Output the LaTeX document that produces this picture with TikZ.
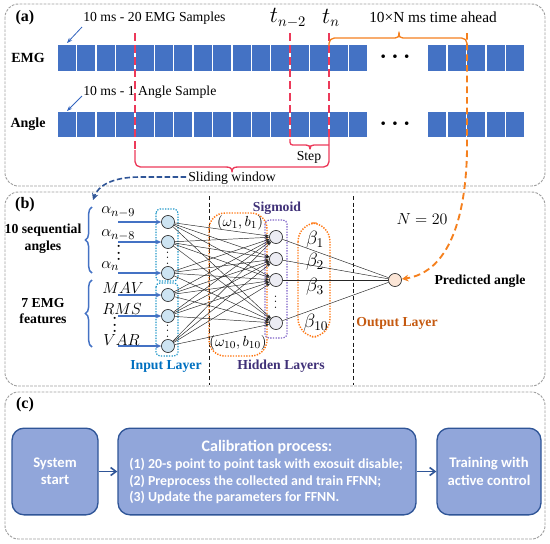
\documentclass[tikz,border=0pt]{standalone}
\usepackage{fontspec}
\setmainfont{Liberation Serif}
\newfontfamily\calfont{Carlito}
\usetikzlibrary{arrows.meta,decorations.pathreplacing}
\definecolor{blk}{RGB}{68,114,196}
\definecolor{redd}{RGB}{236,58,90}
\definecolor{orgd}{RGB}{245,128,30}
\definecolor{annb}{RGB}{50,100,190}
\definecolor{inpc}{RGB}{0,112,192}
\definecolor{hidc}{RGB}{64,49,120}
\definecolor{outc}{RGB}{197,90,17}
\definecolor{cyand}{RGB}{30,150,200}
\definecolor{purd}{RGB}{128,100,200}
\definecolor{orgdot}{RGB}{255,120,20}
\definecolor{boxf}{RGB}{145,166,218}
\definecolor{boxd}{RGB}{47,85,151}
\definecolor{nin}{RGB}{205,228,242}
\definecolor{nhid}{RGB}{236,236,243}
\definecolor{nout}{RGB}{251,229,214}
\tikzset{
  frame/.style={draw=gray!75, dash pattern=on 2pt off 1pt, line width=0.7pt, rounded corners=10pt},
  reddash/.style={draw=redd, line width=1.4pt, dash pattern=on 6pt off 3pt},
  redbr/.style={draw=redd, line width=1pt, line join=round},
  orgbr/.style={draw=orgd, line width=1pt, line join=round},
  annarrow/.style={draw=annb, line width=0.6pt, -{Stealth[length=4pt,width=3pt]}},
  txta/.style={font=\fontsize{10.3}{12}\selectfont, inner sep=0pt},
  lbl/.style={font=\fontsize{10.3}{12}\selectfont\bfseries, inner sep=0pt},
  mth/.style={font=\fontsize{13}{15}\selectfont, inner sep=0pt},
  mthc/.style={font=\fontsize{11.5}{13}\selectfont, inner sep=0pt},
  vd/.style={font=\fontsize{9}{9}\selectfont, inner sep=0pt, rotate=90},
  neu/.style={circle, draw=gray!40!black, line width=0.5pt, minimum size=9.8pt, inner sep=0pt},
  edge/.style={draw=gray!30!black, line width=0.35pt, -{Stealth[length=3pt,width=2pt]}},
  edgeo/.style={draw=gray!30!black, line width=0.35pt},
  inarrow/.style={draw=blk, line width=1pt, -{Stealth[length=4pt,width=3.5pt]}},
  dotbox/.style={line width=0.9pt, dash pattern=on 1pt off 1pt, rounded corners=3pt},
  flow/.style={draw=boxd, line width=1pt, fill=boxf, rounded corners=9pt, text=white, font=\calfont\bfseries\fontsize{11}{13}\selectfont, align=center},
  ctext/.style={text=white, font=\calfont\bfseries\fontsize{10.4}{12}\selectfont, inner sep=0pt, anchor=west},
  flowarrow/.style={draw=boxd, line width=1.2pt, -{Straight Barb[length=4pt,width=6pt]}},
}
\begin{document}
\begin{tikzpicture}[x=0.75pt,y=-0.75pt]
\useasboundingbox (0,0) rectangle (550,543);
% frames
\draw[frame] (5,4) rectangle (545,186);
\draw[frame] (5,192) rectangle (545,386);
\draw[frame] (5,392) rectangle (545,539);
\node[lbl, font=\fontsize{12}{14}\selectfont\bfseries] (pa) at (25,18) {(a)};
\node[lbl, font=\fontsize{12}{14}\selectfont\bfseries] (pb) at (25,205) {(b)};
\node[lbl, font=\fontsize{12}{14}\selectfont\bfseries] (pc) at (25,405) {(c)};
% ===== panel a =====
\foreach \k in {0,...,15} {
  \fill[blk] ({58+19.4*\k},45) rectangle ++(18,26);
  \fill[blk] ({58+19.4*\k},112) rectangle ++(18,25);
}
\foreach \k in {0,...,4} {
  \fill[blk] ({428.3+19.4*\k},45) rectangle ++(18,26);
  \fill[blk] ({428.3+19.4*\k},112) rectangle ++(18,25);
}
\node[font=\fontsize{16}{16}\selectfont\boldmath, inner sep=0pt] (d1) at (395,57) {$\cdots$};
\node[font=\fontsize{16}{16}\selectfont\boldmath, inner sep=0pt] (d2) at (395,124) {$\cdots$};
\node[lbl, font=\fontsize{10.5}{12}\selectfont\bfseries] (emg) at (28,58) {EMG};
\node[lbl, font=\fontsize{10.5}{12}\selectfont\bfseries] (ang) at (28,124) {Angle};
\node[txta, anchor=west] (t1) at (83,18) {10 ms - 20 EMG Samples};
\node[txta, anchor=west] (t2) at (83,92) {10 ms - 1 Angle Sample};
\coordinate (a1s) at (82,27); \coordinate (a1e) at (67,43);
\coordinate (a2s) at (82,96); \coordinate (a2e) at (67,111);
\draw[annarrow] (a1s) -- (a1e);
\draw[annarrow] (a2s) -- (a2e);
% time labels
\node[font=\fontsize{16}{18}\selectfont, inner sep=0pt] (tn2) at (288,18) {$t_{n-2}$};
\node[font=\fontsize{16}{18}\selectfont, inner sep=0pt] (tn) at (331,18) {$t_{n}$};
\node[txta, font=\fontsize{11.5}{13}\selectfont] (ahead) at (433,17) {10×N ms time ahead};
% red dashed lines
\draw[reddash] (135,33) -- (135,152);
\draw[reddash] (290,33) -- (290,140);
\draw[reddash] (329,33) -- (329,138);
% sliding window brace
\draw[redbr, rounded corners=4pt] (135,150) -- (135,167) -- (226,167);
\draw[redbr] (226,167) .. controls (230,167) and (232,168) .. (232,172) .. controls (232,168) and (234,167) .. (238,167);
\draw[redbr, rounded corners=4pt] (238,167) -- (329,167) -- (329,136);
% step brace
\draw[redbr, rounded corners=2pt] (290,139) -- (290,145) -- (306,145);
\draw[redbr] (306,145) .. controls (309,145) and (310,146) .. (310,149) .. controls (310,146) and (311,145) .. (314,145) -- (329,145);
\node[txta] (step) at (309,157) {Step};
\node[txta] (sw) at (232,178) {Sliding window};
% orange brace
\draw[orgbr, rounded corners=4pt] (329,46) -- (329,38) -- (395,38);
\draw[orgbr] (395,38) .. controls (398,38) and (399,37) .. (399,32) .. controls (399,37) and (400,38) .. (403,38);
\draw[orgbr, rounded corners=4pt] (403,38) -- (467,38) -- (467,44);
% ===== panel b =====
% dashed separators
\coordinate (s1t) at (209,196); \coordinate (s1b) at (209,385);
\coordinate (s2t) at (353,196); \coordinate (s2b) at (353,385);
\draw[gray!20!black, line width=0.5pt, dash pattern=on 3pt off 2pt] (s1t) -- (s1b);
\draw[gray!20!black, line width=0.5pt, dash pattern=on 3pt off 2pt] (s2t) -- (s2b);
% boxes
\draw[dotbox, draw=cyand] (156,209) rectangle (178,281);
\draw[dotbox, draw=cyand] (156,283) rectangle (178,356);
\draw[dotbox, draw=orgdot, rounded corners=12pt, line width=1.1pt] (209,213) rectangle (267,356);
\draw[dotbox, draw=purd] (265,220) rectangle (287,338);
\draw[dotbox, draw=orgdot, rounded corners=14pt, line width=1.1pt] (298,223) rectangle (330,337);
% input neurons
\foreach \n/\y in {1/222,2/242,3/273,4/295,5/316,6/346} {
  \node[neu, fill=nin] (i\n) at (168,\y) {};
  \coordinate (src\n) at (118,\y);
  \draw[inarrow] (src\n) -- (i\n);
}
\node[vd] (iv1) at (168,258) {$\cdots$};
\node[vd] (iv2) at (168,331) {$\cdots$};
% hidden neurons
\foreach \n/\y in {1/237,2/259,3/280,4/323} {
  \node[neu, fill=nhid] (h\n) at (276,\y) {};
}
\node[vd] (hv) at (276,302) {$\cdots$};
\node[neu, fill=nout] (o) at (395,280) {};
\foreach \i in {1,...,6} {
  \foreach \h in {1,...,4} {
    \draw[edge] (i\i) -- (h\h);
  }
}
\foreach \h in {1,...,4} { \draw[edgeo] (h\h) -- (o); }
% input labels
\node[mth, anchor=west] (la1) at (101,212) {$\alpha_{n-9}$};
\node[mth, anchor=west] (la2) at (101,235) {$\alpha_{n-8}$};
\node[vd, font=\fontsize{10}{10}\selectfont\boldmath] (lav) at (119,253) {$\cdots$};
\node[mth, anchor=west] (la3) at (101,266) {$\alpha_{n}$};
\node[mthc, anchor=west] (lm1) at (102,288) {$MAV$};
\node[mthc, anchor=west] (lm2) at (102,309) {$RMS$};
\node[vd, font=\fontsize{10}{10}\selectfont\boldmath] (lmv) at (115,325) {$\cdots$};
\node[mthc, anchor=west] (lm3) at (103,340) {$VAR$};
% braces
\draw[draw=blk, line width=1.1pt, decorate, decoration={brace, amplitude=5pt}] (92,273) -- (92,207);
\draw[draw=blk, line width=1.1pt, decorate, decoration={brace, amplitude=5pt}] (92,347) -- (92,280);
\node[lbl, align=center, font=\fontsize{10.3}{12.5}\selectfont\bfseries] (g1) at (43,239) {10 sequential\\angles};
\node[lbl, align=center, font=\fontsize{10.3}{12.5}\selectfont\bfseries] (g2) at (43,311) {7 EMG\\features};
% weights / betas
\node[mth, font=\fontsize{11}{13}\selectfont] (w1) at (240,223) {$(\omega_1,b_1)$};
\node[mth, font=\fontsize{11}{13}\selectfont] (w10) at (238,343) {$(\omega_{10},b_{10})$};
\node[mth, font=\fontsize{14}{16}\selectfont] (b1) at (315,240) {$\beta_1$};
\node[mth, font=\fontsize{14}{16}\selectfont] (b2) at (315,262) {$\beta_2$};
\node[mth, font=\fontsize{14}{16}\selectfont] (b3) at (315,287) {$\beta_3$};
\node[mth, font=\fontsize{14}{16}\selectfont] (b10) at (316,323) {$\beta_{10}$};
\node[lbl, text=hidc] (sig) at (277,208) {Sigmoid};
\node[mth, font=\fontsize{13}{15}\selectfont] (nn) at (422,219) {$N=20$};
\node[lbl] (pred) at (480,281) {Predicted angle};
\node[lbl, text=inpc] (il) at (166,366) {Input Layer};
\node[lbl, text=hidc] (hl) at (281,366) {Hidden Layers};
\node[lbl, text=outc] (ol) at (397,323) {Output Layer};
% connectors between panels
\coordinate (oa) at (467,33);
\draw[draw=orgd, line width=1.4pt, dash pattern=on 5pt off 3pt, -{Stealth[length=5pt,width=5pt]}]
  (oa) -- (467,150) .. controls (466,215) and (450,272) .. (o);
\coordinate (swl) at (186,177);
\coordinate (bt) at (93,200);
\draw[draw=boxd, line width=1.2pt, dash pattern=on 4pt off 2pt, -{Stealth[length=5pt,width=5pt]}]
  (swl) -- (140,177) .. controls (112,177) and (98,186) .. (bt);
% ===== panel c =====
\node[flow, minimum width=64.5pt, minimum height=65pt] (ss) at (55,471.5) {System\\start};
\node[flow, minimum width=223.5pt, minimum height=65pt] (cal) at (267,471.5) {};
\node[flow, minimum width=78pt, minimum height=65pt] (tr) at (489,471.5) {Training with\\active control};
\node[text=white, font=\calfont\bfseries\fontsize{12}{14}\selectfont, inner sep=0pt] (ct) at (267,447) {Calibration process:};
\node[ctext] (c1) at (129,464) {(1) 20-s point to point task with exosuit disable;};
\node[ctext] (c2) at (129,481) {(2) Preprocess the collected and train FFNN;};
\node[ctext] (c3) at (129,497) {(3) Update the parameters for FFNN.};
\draw[flowarrow] (ss) -- (cal);
\draw[flowarrow] (cal) -- (tr);
\end{tikzpicture}
\end{document}
